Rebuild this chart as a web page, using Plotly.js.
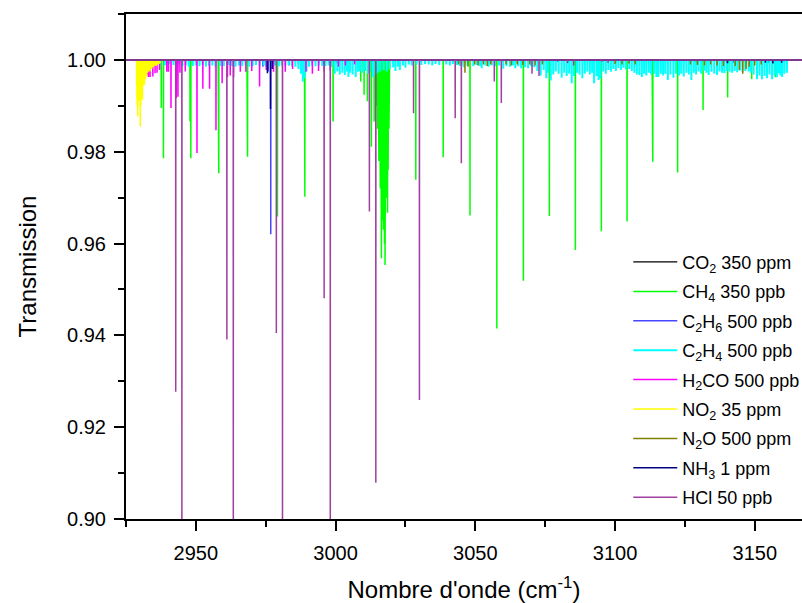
<!DOCTYPE html>
<html>
<head>
<meta charset="utf-8">
<script src="https://cdn.plot.ly/plotly-3.0.1.min.js"></script>
<style>html,body{margin:0;padding:0;background:#fff;}#chart{width:802px;height:603px;}</style>
</head>
<body>
<div id="chart"></div>
<script>
// Spectral window of the simulated transmission spectra (cm-1)
const specRange = [2925, 3170];

// Legend labels
const seriesNames = [
  "CO<sub>2</sub> 350 ppm", "CH<sub>4</sub> 350 ppb", "C<sub>2</sub>H<sub>6</sub> 500 ppb",
  "C<sub>2</sub>H<sub>4</sub> 500 ppb", "H<sub>2</sub>CO 500 ppb", "NO<sub>2</sub> 35 ppm",
  "N<sub>2</sub>O 500 ppm", "NH<sub>3</sub> 1 ppm", "HCl 50 ppb"
];

// Absorption lines: positions (cm-1) and minimum transmission
const co2Pos = [3079.5, 3090.2, 3128.4, 3140.8, 3142.3, 3155.1, 3157.2, 3158.6];
const co2Min = [0.9996, 0.9996, 0.9995, 0.9993, 0.9994, 0.9993, 0.9992, 0.9994];

const ch4Pos = [2937.6, 2938.4, 2947.9, 2948.2, 2958.0, 2958.2, 2968.3, 2968.5, 2979.2, 2988.9, 2989.0, 2999.1,
  3009.0, 3010.2, 3011.4, 3012.8, 3013.8, 3014.6, 3015.0, 3015.3, 3015.5, 3015.8, 3016.0, 3016.2, 3016.4, 3016.6,
  3016.8, 3017.0, 3017.1, 3017.3, 3017.5, 3017.7, 3017.9, 3018.1, 3018.2, 3018.4, 3018.6, 3018.8, 3018.9, 3019.1,
  3019.3, 3028.7, 3038.5, 3048.1, 3057.7, 3067.2, 3076.5, 3085.8, 3095.1, 3104.3, 3113.3, 3113.5, 3122.4, 3131.5,
  3140.3, 3148.9, 3157.4];
const ch4Min = [0.9895, 0.9786, 0.9866, 0.9786, 0.9798, 0.9753, 0.9811, 0.9789, 0.9659, 0.9760, 0.9702, 0.9866,
  0.9953, 0.9924, 0.9910, 0.9811, 0.9866, 0.9900, 0.9850, 0.9804, 0.9780, 0.9790, 0.9720, 0.9660, 0.9568, 0.9700,
  0.9650, 0.9690, 0.9630, 0.9700, 0.9600, 0.9553, 0.9640, 0.9700, 0.9721, 0.9690, 0.9667, 0.9760, 0.9804, 0.9850,
  0.9920, 0.9739, 0.9788, 0.9661, 0.9415, 0.9519, 0.9660, 0.9586, 0.9627, 0.9648, 0.9804, 0.9778, 0.9755, 0.9891,
  0.9918, 0.9958, 0.9962];

const c2h6Pos = [2974.0, 2975.9, 2976.8, 2977.6, 2983.3, 2986.7, 2995.6, 3000.3];
const c2h6Min = [0.9985, 0.9975, 0.9620, 0.9985, 0.9988, 0.9990, 0.9992, 0.9993];

const c2h4Pos = [2937.3, 2938.9, 2940.4, 2942.0, 2943.8, 2945.2, 2946.4, 2947.5, 2948.9, 2950.1, 2951.3, 2952.4,
  2953.6, 2954.7, 2955.9, 2957.0, 2958.8, 2960.0, 2961.7, 2962.9, 2964.2, 2965.4, 2966.6, 2967.8, 2969.1, 2970.3,
  2971.5, 2972.8, 2974.3, 2975.1, 2977.1, 2978.3, 2979.7, 2980.8, 2982.0, 2983.2, 2984.4, 2985.6, 2986.7, 2987.6,
  2988.3, 2988.9, 2989.6, 2990.5, 2991.6, 2992.8, 2994.0, 2995.2, 2996.4, 2997.5, 2998.7, 2999.7, 3000.6, 3001.5,
  3002.4, 3003.3, 3004.1, 3004.6, 3005.2, 3006.1, 3007.2, 3008.0, 3008.7, 3009.6, 3010.6, 3011.6, 3012.4, 3013.4,
  3014.3, 3015.1, 3016.0, 3017.2, 3018.3, 3019.4, 3020.6, 3021.4, 3022.3, 3023.0, 3024.1, 3025.0, 3026.2, 3027.3,
  3029.0, 3030.7, 3032.0, 3033.3, 3034.6, 3035.8, 3037.1, 3039.6, 3040.9, 3042.0, 3043.4, 3044.5, 3046.0, 3047.2,
  3049.3, 3050.5, 3051.6, 3052.3, 3053.6, 3054.8, 3055.9, 3057.0, 3058.5, 3060.0, 3061.2, 3062.4, 3063.5, 3064.3,
  3065.4, 3066.4, 3067.8, 3068.9, 3070.0, 3071.1, 3072.2, 3073.4, 3074.5, 3075.4, 3076.0, 3077.0, 3077.9, 3078.8,
  3079.8, 3080.9, 3081.8, 3082.7, 3083.6, 3084.5, 3085.3, 3086.4, 3087.3, 3088.3, 3089.2, 3090.1, 3091.0, 3091.8,
  3092.5, 3093.4, 3094.1, 3094.8, 3095.8, 3096.7, 3097.6, 3098.5, 3099.4, 3100.3, 3101.2, 3102.1, 3103.0, 3103.9,
  3105.1, 3106.0, 3106.9, 3107.8, 3108.7, 3109.6, 3110.4, 3111.2, 3112.1, 3112.9, 3114.0, 3114.8, 3115.5, 3116.4,
  3117.2, 3118.0, 3118.9, 3119.8, 3120.9, 3121.8, 3122.9, 3123.7, 3124.6, 3125.5, 3126.4, 3127.3, 3128.2, 3129.0,
  3129.9, 3130.8, 3131.9, 3132.7, 3133.5, 3134.5, 3135.5, 3136.5, 3137.4, 3138.3, 3139.1, 3140.0, 3141.0, 3141.9,
  3142.8, 3143.7, 3144.6, 3145.6, 3146.6, 3147.8, 3148.6, 3149.6, 3150.8, 3151.7, 3152.6, 3153.5, 3154.4, 3155.3,
  3156.2, 3157.1, 3157.9, 3158.6, 3159.2, 3159.8, 3160.6, 3161.5];
const c2h4Min = [0.9990, 0.9988, 0.9991, 0.9989, 0.9990, 0.9986, 0.9988, 0.9985, 0.9987, 0.9988, 0.9986, 0.9989,
  0.9985, 0.9987, 0.9988, 0.9985, 0.9987, 0.9986, 0.9989, 0.9987, 0.9985, 0.9988, 0.9986, 0.9988, 0.9985, 0.9987,
  0.9989, 0.9986, 0.9988, 0.9985, 0.9987, 0.9988, 0.9986, 0.9988, 0.9987, 0.9989, 0.9986, 0.9985, 0.9980, 0.9970,
  0.9953, 0.9960, 0.9975, 0.9985, 0.9988, 0.9986, 0.9988, 0.9987, 0.9986, 0.9988, 0.9985, 0.9970, 0.9975, 0.9968,
  0.9972, 0.9967, 0.9975, 0.9963, 0.9972, 0.9968, 0.9963, 0.9974, 0.9975, 0.9972, 0.9976, 0.9970, 0.9975, 0.9963,
  0.9967, 0.9972, 0.9975, 0.9978, 0.9975, 0.9980, 0.9984, 0.9976, 0.9985, 0.9978, 0.9988, 0.9983, 0.9990, 0.9988,
  0.9990, 0.9989, 0.9991, 0.9990, 0.9988, 0.9991, 0.9989, 0.9990, 0.9988, 0.9991, 0.9989, 0.9987, 0.9984, 0.9988,
  0.9986, 0.9989, 0.9987, 0.9982, 0.9988, 0.9985, 0.9988, 0.9986, 0.9988, 0.9981, 0.9987, 0.9985, 0.9988, 0.9982,
  0.9986, 0.9982, 0.9984, 0.9982, 0.9986, 0.9984, 0.9976, 0.9966, 0.9978, 0.9960, 0.9972, 0.9955, 0.9968, 0.9975,
  0.9970, 0.9961, 0.9972, 0.9965, 0.9970, 0.9949, 0.9965, 0.9972, 0.9968, 0.9960, 0.9970, 0.9975, 0.9968, 0.9972,
  0.9949, 0.9965, 0.9956, 0.9960, 0.9975, 0.9970, 0.9978, 0.9974, 0.9980, 0.9976, 0.9982, 0.9978, 0.9983, 0.9979,
  0.9980, 0.9976, 0.9972, 0.9968, 0.9967, 0.9963, 0.9970, 0.9966, 0.9972, 0.9968, 0.9970, 0.9963, 0.9963, 0.9970,
  0.9966, 0.9970, 0.9956, 0.9968, 0.9961, 0.9970, 0.9966, 0.9970, 0.9964, 0.9972, 0.9968, 0.9956, 0.9972, 0.9968,
  0.9975, 0.9970, 0.9976, 0.9972, 0.9967, 0.9974, 0.9970, 0.9967, 0.9975, 0.9972, 0.9971, 0.9976, 0.9974, 0.9972,
  0.9976, 0.9973, 0.9977, 0.9974, 0.9976, 0.9975, 0.9972, 0.9968, 0.9958, 0.9966, 0.9958, 0.9965, 0.9960, 0.9968,
  0.9958, 0.9966, 0.9962, 0.9971, 0.9966, 0.9963, 0.9970, 0.9972];

const h2coPos = [2932.6, 2933.0, 2933.6, 2934.6, 2935.4, 2936.1, 2937.0, 2939.6, 2940.2, 2941.1, 2943.0, 2943.6,
  2944.3, 2946.2, 2950.4, 2952.5, 2954.9, 2957.2, 2959.4, 2961.3, 2962.3, 2963.5, 2965.9, 2967.9, 2970.0, 2972.8,
  2975.2, 2977.8, 2982.0, 2984.6, 2989.4, 2991.7, 2993.9, 2995.9, 2998.1, 3001.0, 3003.5, 3006.8];
const h2coMin = [0.9968, 0.9963, 0.9963, 0.9964, 0.9971, 0.9972, 0.9978, 0.9974, 0.9974, 0.9895, 0.9917, 0.9920,
  0.9972, 0.9975, 0.9797, 0.9937, 0.9937, 0.9847, 0.9949, 0.9963, 0.9966, 0.9962, 0.9974, 0.9974, 0.9976, 0.9942,
  0.9978, 0.9974, 0.9974, 0.9980, 0.9974, 0.9970, 0.9976, 0.9974, 0.9976, 0.9985, 0.9988, 0.9990];

const no2Pos = [2928.8, 2929.0, 2929.2, 2929.4, 2929.6, 2929.8, 2930.0, 2930.1, 2930.3, 2930.5, 2930.7, 2930.9,
  2931.1, 2931.3, 2931.6, 2931.8, 2932.0, 2932.2, 2932.4, 2932.7, 2933.0, 2933.3, 2933.6, 2933.9, 2934.2, 2934.5,
  2934.8, 2935.2, 2935.6, 2936.0, 2936.4, 2936.8, 2937.2];
const no2Min = [0.9960, 0.9900, 0.9877, 0.9930, 0.9945, 0.9910, 0.9870, 0.9855, 0.9900, 0.9935, 0.9925, 0.9913,
  0.9950, 0.9945, 0.9946, 0.9960, 0.9958, 0.9968, 0.9964, 0.9972, 0.9975, 0.9978, 0.9975, 0.9982, 0.9980, 0.9985,
  0.9984, 0.9988, 0.9987, 0.9988, 0.9990, 0.9991, 0.9993];

const n2oPos = [3044.0, 3045.1, 3046.3, 3047.4, 3049.8, 3051.0, 3052.9, 3054.3, 3055.5, 3061.0, 3062.9, 3065.0,
  3067.0, 3069.5, 3071.4, 3074.0, 3100.0, 3102.5, 3105.0, 3107.2, 3127.0, 3129.5, 3132.0, 3134.2, 3136.5, 3138.8,
  3143.0, 3144.5, 3145.7, 3146.9, 3148.0, 3150.0, 3152.3];
const n2oMin = [0.9990, 0.9988, 0.9972, 0.9985, 0.9990, 0.9988, 0.9990, 0.9987, 0.9990, 0.9990, 0.9988, 0.9990,
  0.9989, 0.9990, 0.9988, 0.9990, 0.9991, 0.9990, 0.9992, 0.9990, 0.9990, 0.9989, 0.9988, 0.9990, 0.9988, 0.9987,
  0.9986, 0.9978, 0.9970, 0.9980, 0.9985, 0.9988, 0.9990];

const nh3Pos = [2975.6, 2976.7, 2977.4, 3140.2, 3153.8, 3156.5, 3159.6];
const nh3Min = [0.9971, 0.9893, 0.9980, 0.9993, 0.9994, 0.9992, 0.9994];

const hclPos = [2942.8, 2945.0, 2961.1, 2963.4, 2978.8, 2981.0, 2995.9, 2998.1, 3012.1, 3014.4, 3027.9, 3030.0,
  3042.8, 3045.0, 3056.8, 3059.3, 3070.3, 3072.8, 3083.0, 3085.2, 3095.3, 3097.5];
const hclMin = [0.9277, 0.870, 0.9391, 0.870, 0.9405, 0.865, 0.9481, 0.875, 0.9670, 0.9079, 0.9884, 0.9259,
  0.9873, 0.9775, 0.9953, 0.9906, 0.9970, 0.9965, 0.9993, 0.9988, 0.9996, 0.9994];

// ---- build the spectra (baseline 1.0 with narrow absorption lines) ----
function spectrum(pos, mins) {
  const hw = 0.03;
  const idx = pos.map((p, i) => i).sort((a, b) => pos[a] - pos[b]);
  const x = [specRange[0]], y = [1];
  idx.forEach(i => { x.push(pos[i] - hw, pos[i], pos[i] + hw); y.push(1, mins[i], 1); });
  x.push(specRange[1]); y.push(1);
  return {x, y};
}

const seriesData = [
  [co2Pos, co2Min, '#000000', 1.2],
  [ch4Pos, ch4Min, '#00ff00', 1.5],
  [c2h6Pos, c2h6Min, '#4646ff', 1.5],
  [c2h4Pos, c2h4Min, '#00ffff', 2],
  [h2coPos, h2coMin, '#ff00ff', 1.5],
  [no2Pos, no2Min, '#ffff00', 1.5],
  [n2oPos, n2oMin, '#808000', 1.5],
  [nh3Pos, nh3Min, '#000080', 1.5],
  [hclPos, hclMin, '#a040a0', 1.5]
];

const traces = seriesData.map((s, k) => {
  const d = spectrum(s[0], s[1]);
  return {x: d.x, y: d.y, type: 'scatter', mode: 'lines', name: seriesNames[k], legendgroup: 'g' + k,
    line: {color: s[2], width: s[3]}, hoverinfo: 'skip'};
});

const FONT = 'Liberation Sans, Arial, sans-serif';
const layout = {
  width: 802, height: 603,
  margin: {l: 126, r: 0, t: 14, b: 84, pad: 0, autoexpand: false},
  paper_bgcolor: '#ffffff', plot_bgcolor: '#ffffff',
  font: {family: FONT, color: '#000000', size: 20},
  showlegend: true,
  legend: {x: 0.743, y: 0.545, xanchor: 'left', yanchor: 'top', bgcolor: 'rgba(0,0,0,0)',
    borderwidth: 0, font: {family: FONT, size: 18, color: '#000'}, itemwidth: 44,
    traceorder: 'grouped', tracegroupgap: 3},
  xaxis: {
    range: [2925, 3166.9], tickmode: 'linear', tick0: 2950, dtick: 50,
    ticks: 'outside', ticklen: 10, tickwidth: 2, tickcolor: '#000', ticklabelstandoff: 5,
    showline: true, linewidth: 2, linecolor: '#000', mirror: true,
    showgrid: false, zeroline: false, tickfont: {family: FONT, size: 20, color: '#000'},
    minor: {tick0: 2925, dtick: 25, ticks: 'outside', ticklen: 6, tickwidth: 2, tickcolor: '#000', showgrid: false},
    title: {text: "Nombre d'onde (cm<sup>-1</sup>)", font: {family: FONT, size: 24, color: '#000'}, standoff: 20}
  },
  yaxis: {
    range: [0.90, 1.01], tickmode: 'linear', tick0: 0.90, dtick: 0.02, tickformat: '.2f',
    ticks: 'outside', ticklen: 10, tickwidth: 2, tickcolor: '#000', ticklabelstandoff: 4,
    showline: true, linewidth: 2, linecolor: '#000', mirror: false,
    showgrid: false, zeroline: false, tickfont: {family: FONT, size: 20, color: '#000'},
    minor: {tick0: 0.90, dtick: 0.01, ticks: 'outside', ticklen: 6, tickwidth: 2, tickcolor: '#000', showgrid: false},
    title: {text: 'Transmission', font: {family: FONT, size: 24, color: '#000'}, standoff: 24}
  }
};

Plotly.newPlot('chart', traces, layout, {displayModeBar: false, staticPlot: true});
</script>
</body>
</html>
